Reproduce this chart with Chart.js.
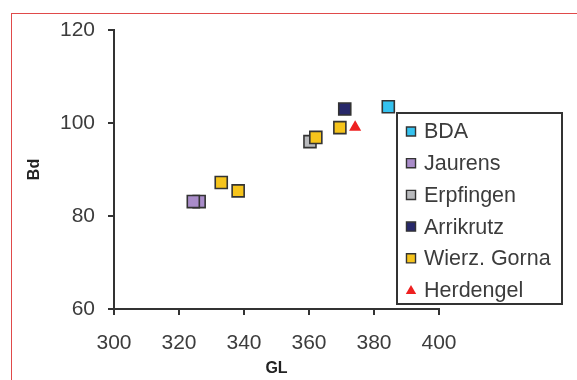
<!DOCTYPE html>
<html>
<head>
<meta charset="utf-8">
<script src="https://cdn.jsdelivr.net/npm/chart.js@4.4.1/dist/chart.umd.min.js"></script>
<style>
  html, body { margin: 0; padding: 0; background: #fff; overflow: hidden; }
  #wrap { position: relative; width: 577px; height: 380px; }
  #frame { position: absolute; left: 11px; top: 13px; width: 600px; height: 400px; border: 1px solid #e04a4a; }
  #chart { position: absolute; left: 0; top: 0; }
</style>
</head>
<body>
<div id="wrap">
  <div id="frame"></div>
  <canvas id="chart" width="577" height="380"></canvas>
</div>
<script>
// tick labels
const xTicks = [300, 320, 340, 360, 380, 400];
const yTicks = [60, 80, 100, 120];

// series (GL on x, Bd on y)
const seriesNames = ['BDA', 'Jaurens', 'Erpfingen', 'Arrikrutz', 'Wierz. Gorna', 'Herdengel'];
const bdaGL = [384.4];
const bdaBd = [103.5];
const jaurensGL = [326.2, 324.4];
const jaurensBd = [83.1, 83.1];
const erpfingenGL = [360.3];
const erpfingenBd = [96.0];
const arrikrutzGL = [371.0];
const arrikrutzBd = [103.0];
const wierzGL = [333.0, 338.2, 362.1, 369.5];
const wierzBd = [87.2, 85.4, 96.9, 99.0];
const herdengelGL = [374.2];
const herdengelBd = [99.1];

const colors = ['#35c2ef', '#a98cc9', '#b9babd', '#27286a', '#f6c41c', '#ee2020'];

const toPoints = (xs, ys) => xs.map((x, i) => ({x: x, y: ys[i]}));

const seriesData = [
  toPoints(bdaGL, bdaBd),
  toPoints(jaurensGL, jaurensBd),
  toPoints(erpfingenGL, erpfingenBd),
  toPoints(arrikrutzGL, arrikrutzBd),
  toPoints(wierzGL, wierzBd),
  toPoints(herdengelGL, herdengelBd)
];

Chart.defaults.font.family = "'Liberation Sans', Arial, sans-serif";
Chart.defaults.color = '#3c3c3c';

const datasets = seriesData.map((pts, i) => {
  const tri = seriesNames[i] === 'Herdengel';
  return {
    label: seriesNames[i],
    data: pts,
    pointStyle: tri ? 'triangle' : 'rect',
    pointRadius: tri ? 7 : 8.5,
    pointHoverRadius: tri ? 7 : 8.5,
    backgroundColor: colors[i],
    borderColor: tri ? colors[i] : '#333',
    borderWidth: tri ? 0 : 1.6,
    // yellow squares sit above the grey one
    order: seriesNames[i] === 'Wierz. Gorna' ? 0 : 1
  };
});

// legend box drawn over the right part of the plot
const legendBox = {
  id: 'legendBox',
  afterDraw(chart) {
    const ctx = chart.ctx;
    ctx.save();
    ctx.fillStyle = '#fff';
    ctx.fillRect(397, 113, 165, 191);
    ctx.strokeStyle = '#333';
    ctx.lineWidth = 2;
    ctx.strokeRect(397, 113, 165, 191);
    chart.data.datasets.forEach((ds, i) => {
      const y = 131.5 + i * 31.7;
      const tri = ds.pointStyle === 'triangle';
      ctx.fillStyle = ds.backgroundColor;
      ctx.strokeStyle = '#333';
      ctx.lineWidth = 1.4;
      Chart.helpers.drawPoint(ctx, {
        pointStyle: ds.pointStyle,
        radius: tri ? 6 : 6.4,
        rotation: 0,
        borderWidth: tri ? 0 : 1.4
      }, 411, tri ? y + 1 : y);
      ctx.fillStyle = '#3c3c3c';
      ctx.font = "21.5px 'Liberation Sans', Arial, sans-serif";
      ctx.textBaseline = 'middle';
      ctx.textAlign = 'left';
      ctx.fillText(ds.label, 424, y + 1);
    });
    ctx.restore();
  }
};

new Chart(document.getElementById('chart'), {
  type: 'scatter',
  data: {datasets},
  plugins: [legendBox],
  options: {
    responsive: false,
    animation: false,
    layout: {padding: {top: 30, right: 138, left: 0, bottom: 0}},
    plugins: {
      legend: {display: false},
      tooltip: {enabled: false}
    },
    scales: {
      x: {
        type: 'linear',
        min: xTicks[0],
        max: xTicks[xTicks.length - 1],
        afterBuildTicks: (s) => { s.ticks = xTicks.map(v => ({value: v})); },
        afterFit: (s) => { s.height = 71; },
        grid: {drawOnChartArea: false, drawTicks: true, tickLength: 6, color: '#333', lineWidth: 2},
        border: {display: true, color: '#333', width: 2},
        ticks: {font: {size: 21}, padding: 16, color: '#3c3c3c', maxRotation: 0},
        title: {display: true, text: 'GL', font: {size: 16, weight: 'bold'}, color: '#222', padding: {top: 0, bottom: 2}}
      },
      y: {
        type: 'linear',
        min: yTicks[0],
        max: yTicks[yTicks.length - 1],
        afterBuildTicks: (s) => { s.ticks = yTicks.map(v => ({value: v})); },
        afterFit: (s) => { s.width = 114; },
        grid: {drawOnChartArea: false, drawTicks: true, tickLength: 6, color: '#333', lineWidth: 2},
        border: {display: true, color: '#333', width: 2},
        ticks: {font: {size: 21}, padding: 13, color: '#3c3c3c'},
        title: {display: true, text: 'Bd', font: {size: 16, weight: 'bold'}, color: '#222', padding: {top: 25, bottom: 0}}
      }
    }
  }
});
</script>
</body>
</html>
